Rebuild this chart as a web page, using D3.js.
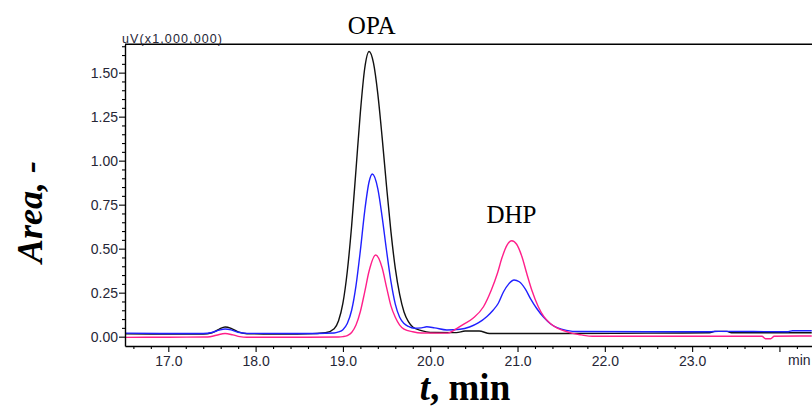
<!DOCTYPE html>
<html>
<head>
<meta charset="utf-8">
<script src="https://cdn.jsdelivr.net/npm/d3@7"></script>
<style>
  html, body { margin: 0; padding: 0; background: #fff; }
  svg { display: block; }
</style>
</head>
<body>
<svg id="chart" width="812" height="412"></svg>
<script>
// ---- data (time in min, signal in uV x 1,000,000) ----
const blackSeries = [
  [16.50,0.016],[17.00,0.015],[17.40,0.015],[17.50,0.022],[17.58,0.042],[17.65,0.055],[17.72,0.047],
  [17.80,0.027],[17.90,0.017],[18.20,0.015],[18.60,0.016],[18.80,0.022],[18.90,0.045],[18.95,0.09],
  [19.00,0.19],[19.05,0.37],[19.10,0.63],[19.15,0.95],[19.20,1.275],[19.25,1.525],[19.30,1.62],
  [19.35,1.555],[19.40,1.378],[19.45,1.128],[19.50,0.853],[19.55,0.597],[19.60,0.388],[19.65,0.24],
  [19.70,0.14],[19.75,0.085],[19.80,0.055],[19.90,0.034],[20.00,0.024],[20.30,0.023],[20.40,0.032],
  [20.56,0.032],[20.68,0.018],[21.50,0.018],[22.50,0.02],[23.20,0.022],[23.26,0.03],[23.40,0.03],
  [23.45,0.022],[24.00,0.022],[24.37,0.022]
];
const blueSeries = [
  [16.50,0.02],[17.00,0.018],[17.40,0.018],[17.50,0.024],[17.58,0.037],[17.65,0.044],[17.72,0.039],
  [17.80,0.025],[17.90,0.019],[18.50,0.018],[18.90,0.021],[18.95,0.027],[19.00,0.04],[19.05,0.075],
  [19.10,0.15],[19.15,0.29],[19.20,0.49],[19.25,0.715],[19.30,0.88],[19.337,0.924],[19.40,0.84],
  [19.45,0.678],[19.50,0.488],[19.55,0.314],[19.60,0.185],[19.65,0.11],[19.70,0.075],[19.75,0.058],
  [19.82,0.048],[19.90,0.05],[19.96,0.056],[20.05,0.05],[20.19,0.038],[20.34,0.042],[20.45,0.055],
  [20.55,0.078],[20.65,0.115],[20.72,0.15],[20.78,0.19],[20.84,0.255],[20.90,0.30],[20.96,0.322],
  [21.02,0.312],[21.09,0.27],[21.15,0.215],[21.22,0.16],[21.30,0.11],[21.38,0.072],[21.46,0.05],
  [21.56,0.036],[21.70,0.029],[22.50,0.028],[23.20,0.028],[23.30,0.03],[24.10,0.028],[24.15,0.034],
  [24.37,0.034]
];
const pinkSeries = [
  [16.50,-0.004],[17.00,-0.003],[17.45,-0.002],[17.55,0.008],[17.65,0.018],[17.74,0.01],[17.82,0.0],
  [17.90,-0.003],[18.60,-0.003],[18.95,-0.002],[19.00,0.0],[19.05,0.006],[19.10,0.024],[19.15,0.066],
  [19.20,0.143],[19.25,0.255],[19.30,0.373],[19.375,0.464],[19.45,0.39],[19.50,0.28],[19.55,0.175],
  [19.60,0.11],[19.65,0.066],[19.70,0.043],[19.80,0.028],[19.90,0.021],[20.20,0.02],[20.27,0.036],
  [20.38,0.07],[20.49,0.105],[20.61,0.17],[20.70,0.265],[20.77,0.36],[20.82,0.445],[20.88,0.52],
  [20.934,0.545],[20.99,0.525],[21.05,0.455],[21.105,0.36],[21.163,0.265],[21.238,0.17],[21.30,0.115],
  [21.372,0.076],[21.45,0.05],[21.525,0.035],[21.62,0.02],[21.73,0.01],[21.86,0.002],[22.50,0.002],
  [23.80,0.002],[23.84,-0.012],[23.90,-0.012],[23.94,0.002],[24.37,0.004]
];
const xMajorTicks = [17, 18, 19, 20, 21, 22, 23];
const xMinorTicks = [16.6,16.8,17.2,17.4,17.6,17.8,18.2,18.4,18.6,18.8,19.2,19.4,19.6,19.8,20.2,20.4,20.6,20.8,
                     21.2,21.4,21.6,21.8,22.2,22.4,22.6,22.8,23.2,23.4,23.6,23.8,24.2];
const yMajorTicks = [0, 0.25, 0.5, 0.75, 1.0, 1.25, 1.5];
const yMinorTicks = [0.05,0.1,0.15,0.2,0.3,0.35,0.4,0.45,0.55,0.6,0.65,0.7,0.8,0.85,0.9,0.95,
                     1.05,1.1,1.15,1.2,1.3,1.35,1.4,1.45,1.55,1.6,1.65];
const peakLabels = [
  { text: "OPA", t: 19.33, v: 1.72 },
  { text: "DHP", t: 20.93, v: 0.645 }
];

// ---- scales ----
const svg = d3.select("#chart");
const x = d3.scaleLinear().domain([16.504, 24.373]).range([125, 812]);
const y = d3.scaleLinear().domain([-0.053, 1.661]).range([346, 44.3]);

const tickFont = "'Liberation Sans', Arial, sans-serif";
const serif = "'Liberation Serif', 'Times New Roman', serif";

// ---- series ----
const line = d3.line().x(d => x(d[0])).y(d => y(d[1])).curve(d3.curveMonotoneX);
const series = [
  { data: blackSeries, color: "#111111" },
  { data: blueSeries, color: "#2020ff" },
  { data: pinkSeries, color: "#ff1f8a" }
];
svg.append("clipPath").attr("id", "plotclip")
  .append("rect").attr("x", 125).attr("y", 44).attr("width", 700).attr("height", 302);
svg.append("g").attr("clip-path", "url(#plotclip)")
  .selectAll("path").data(series).join("path")
  .attr("d", d => line(d.data))
  .attr("fill", "none")
  .attr("stroke", d => d.color)
  .attr("stroke-width", 1.4)
  .attr("stroke-linejoin", "round");

// ---- frame (top border) ----
svg.append("line")
  .attr("x1", x.range()[0]).attr("x2", 812)
  .attr("y1", y.range()[1]).attr("y2", y.range()[1])
  .attr("stroke", "#000").attr("stroke-width", 1.4);

// ---- y axis ----
svg.append("g").attr("transform", `translate(${x.range()[0]},0)`)
  .call(d3.axisLeft(y).tickValues(yMajorTicks).tickFormat(d3.format(".2f"))
        .tickSize(6).tickSizeOuter(0).tickPadding(1));
svg.append("g").attr("transform", `translate(${x.range()[0]},0)`)
  .call(d3.axisLeft(y).tickValues(yMinorTicks).tickFormat("").tickSize(3).tickSizeOuter(0))
  .select(".domain").remove();

// ---- x axis ----
svg.append("g").attr("transform", `translate(0,${y.range()[0]})`)
  .call(d3.axisBottom(x).tickValues(xMajorTicks.concat([24])).tickFormat(d => d === 24 ? "" : d3.format(".1f")(d))
        .tickSize(6).tickSizeOuter(0).tickPadding(4));
svg.append("g").attr("transform", `translate(0,${y.range()[0]})`)
  .call(d3.axisBottom(x).tickValues(xMinorTicks).tickFormat("").tickSize(3).tickSizeOuter(0))
  .select(".domain").remove();

svg.selectAll(".domain").attr("stroke", "#000").attr("stroke-width", 1.4);
svg.selectAll(".tick line").attr("stroke", "#000").attr("stroke-width", 1.1);
svg.selectAll(".tick text")
  .attr("font-family", tickFont).attr("font-size", 14).attr("fill", "#262636");

// "min" unit label at the right end of the time axis
svg.append("text")
  .attr("x", 788).attr("y", y.range()[0] + 19)
  .attr("font-family", tickFont).attr("font-size", 14).attr("fill", "#262636")
  .text("min");

// unit label of the signal axis
svg.append("text")
  .attr("x", 122).attr("y", 42.5)
  .attr("font-family", tickFont).attr("font-size", 12.5).attr("fill", "#262636")
  .attr("textLength", 100).attr("lengthAdjust", "spacing")
  .text("uV(x1,000,000)");

// ---- peak labels ----
svg.selectAll("text.peak").data(peakLabels).join("text")
  .attr("class", "peak")
  .attr("x", d => x(d.t)).attr("y", d => y(d.v))
  .attr("text-anchor", "middle")
  .attr("font-family", serif).attr("font-size", 25).attr("fill", "#000")
  .text(d => d.text);

// ---- axis titles ----
svg.append("text")
  .attr("transform", "translate(42,212) rotate(-90)")
  .attr("text-anchor", "middle")
  .attr("font-family", serif).attr("font-size", 36)
  .attr("font-weight", "bold").attr("font-style", "italic").attr("fill", "#000")
  .text("Area, -");

const xt = svg.append("text")
  .attr("x", 465).attr("y", 400)
  .attr("text-anchor", "middle")
  .attr("font-family", serif).attr("font-size", 37)
  .attr("font-weight", "bold").attr("fill", "#000");
xt.append("tspan").attr("font-style", "italic").text("t");
xt.append("tspan").text(", min");
</script>
</body>
</html>
